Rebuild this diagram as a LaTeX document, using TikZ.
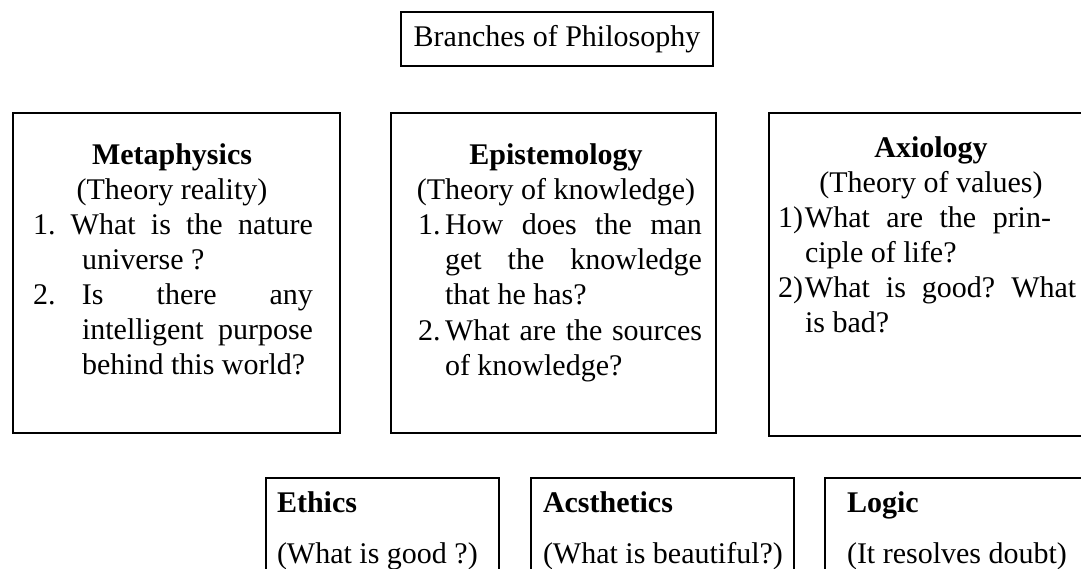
\documentclass[tikz,border=0pt]{standalone}
\usepackage{fontspec}
\setmainfont{Liberation Serif}
\tolerance=10000
\hbadness=10000
\begin{document}
\begin{tikzpicture}[x=1pt,y=-1pt,
  frame/.style={draw=black, line width=2.4pt, inner sep=0pt, anchor=north west},
  txt/.style={inner sep=0pt, outer sep=0pt, font=\fontsize{30}{35}\selectfont},
  head/.style={txt, anchor=base, text width=330pt, align=flush center},
  item/.style={txt, anchor=base west, align=justify},
  lowtxt/.style={inner sep=0pt, outer sep=0pt, anchor=base west, font=\fontsize{30}{51}\selectfont, align=flush left}]
\useasboundingbox (0,0) rectangle (1081,569);
\clip (0,0) rectangle (1081,569);

% title
\node[frame, txt, minimum width=312pt, minimum height=54pt] (title) at (401,12) {Branches of Philosophy};

% Metaphysics
\node[frame, minimum width=327pt, minimum height=320pt] (meta) at (12,112) {};
\node[head] (metaH) at (172,165) {\textbf{Metaphysics}\\(Theory reality)};
\node[item, text width=280pt] (meta1) at (33,235)
 {\noindent\hangindent=49pt\hangafter=1 1.\ What is the nature\linebreak universe ?\par};
\node[item, text width=280pt] (meta2) at (33,305)
 {\noindent\hangindent=49pt\hangafter=1 \makebox[49pt][l]{2.}Is there any\linebreak intelligent purpose\linebreak behind this world?\par};

% Epistemology
\node[frame, minimum width=325pt, minimum height=320pt] (epi) at (390,112) {};
\node[head] (epiH) at (556,165) {\textbf{Epistemology}\\(Theory of knowledge)};
\node[item, text width=284pt] (epi1) at (418,235)
 {\noindent\hangindent=27pt\hangafter=1 \makebox[27pt][l]{1.}How does the man\linebreak get the knowledge\linebreak that he has?\par};
\node[item, text width=284pt] (epi2) at (418,340)
 {\noindent\hangindent=27pt\hangafter=1 \makebox[27pt][l]{2.}What are the sources\linebreak of knowledge?\par};

% Axiology
\node[frame, minimum width=400pt, minimum height=323pt] (axi) at (768,112) {};
\node[head] (axiH) at (931,158) {\textbf{Axiology}\\(Theory of values)};
\node[txt, anchor=base west, text width=320pt, align=flush left] (axi1) at (778,228)
 {\noindent\hangindent=27pt\hangafter=1 \makebox[27pt][l]{1)}{\spaceskip=16.5pt What are the prin-}\newline ciple of life?\par};
\node[txt, anchor=base west, text width=320pt, align=flush left] (axi2) at (778,298)
 {\noindent\hangindent=27pt\hangafter=1 \makebox[27pt][l]{2)}{\spaceskip=16pt\xspaceskip=16pt What is good? What}\newline is bad?\par};

% bottom row
\node[frame, minimum width=233pt, minimum height=200pt] (eth) at (265,477) {};
\node[lowtxt, text width=220pt] (ethT) at (277,512) {\textbf{Ethics}\\(What is good ?)};
\node[frame, minimum width=263pt, minimum height=200pt] (aes) at (530,477) {};
\node[lowtxt, text width=250pt] (aesT) at (543,512) {\textbf{Acsthetics}\\(What is beautiful?)};
\node[frame, minimum width=300pt, minimum height=200pt] (logi) at (824,477) {};
\node[lowtxt, text width=250pt] (logiT) at (847,512) {\textbf{Logic}\\(It resolves doubt)};
\end{tikzpicture}
\end{document}
